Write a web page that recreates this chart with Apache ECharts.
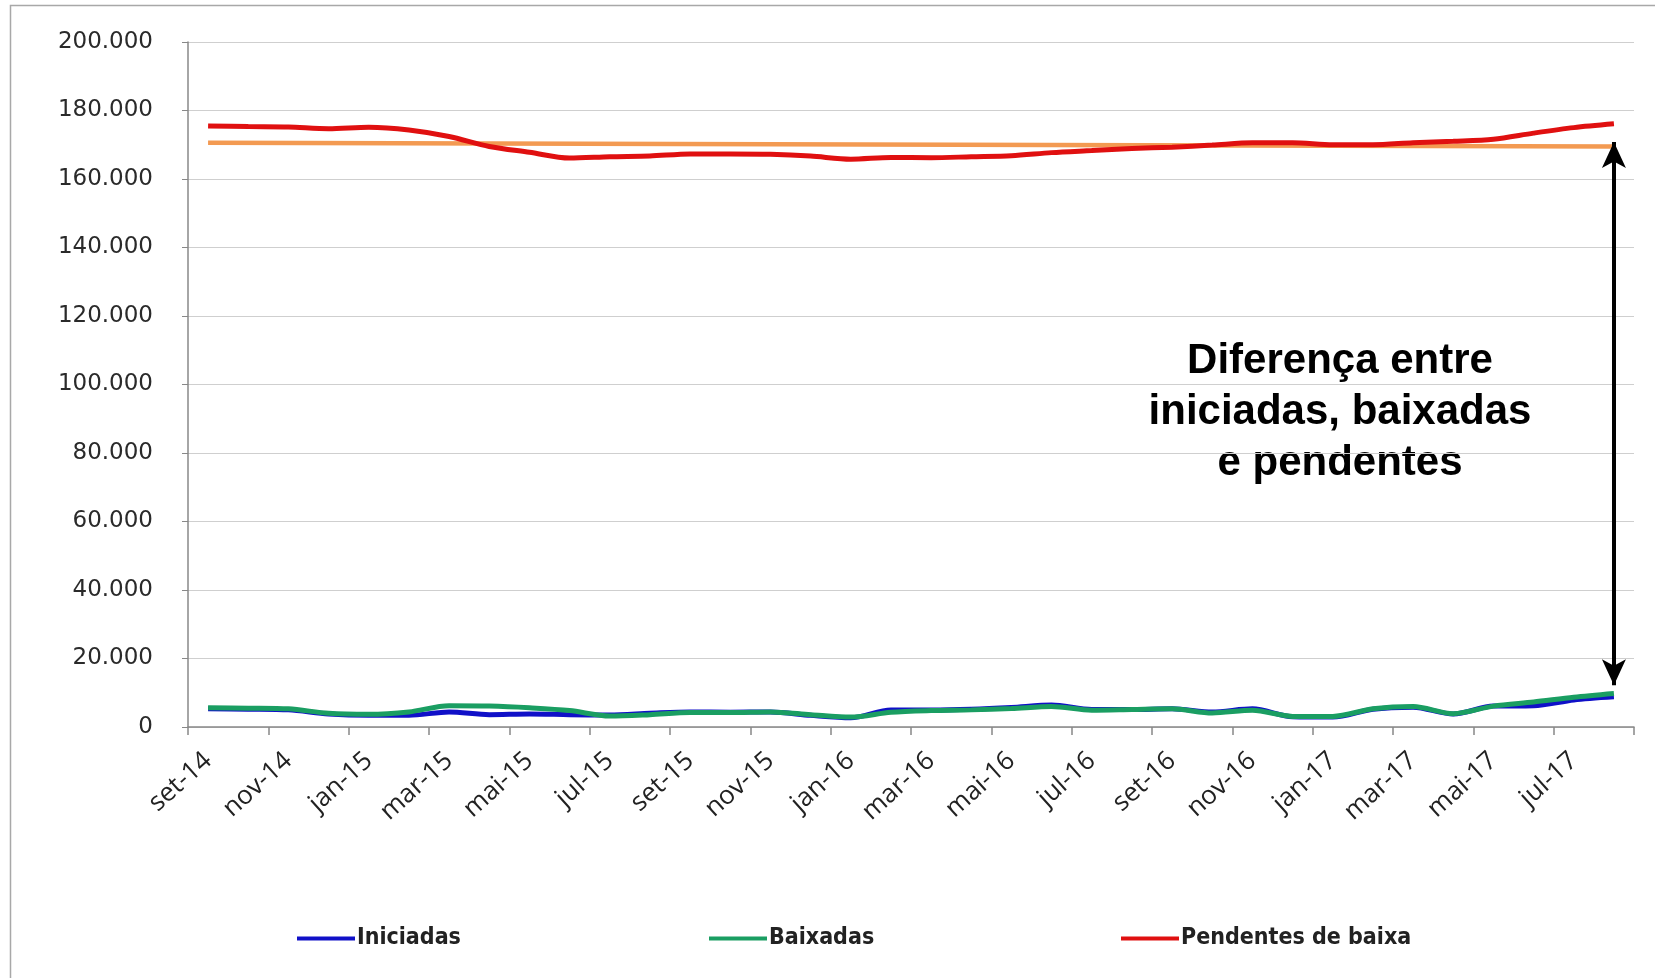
<!DOCTYPE html>
<html>
<head>
<meta charset="utf-8">
<script src="https://cdn.jsdelivr.net/npm/echarts@6/dist/echarts.min.js"></script>
<style>
html,body{margin:0;padding:0;background:#fff;}
#chart{width:1655px;height:978px;}
</style>
</head>
<body>
<div id="chart"></div>
<script>
var categories = ['set-14','out-14','nov-14','dez-14','jan-15','fev-15','mar-15','abr-15','mai-15','jun-15','jul-15','ago-15',
  'set-15','out-15','nov-15','dez-15','jan-16','fev-16','mar-16','abr-16','mai-16','jun-16','jul-16','ago-16',
  'set-16','out-16','nov-16','dez-16','jan-17','fev-17','mar-17','abr-17','mai-17','jun-17','jul-17','ago-17'];

var iniciadas = [5300,5200,5000,3800,3400,3400,4400,3600,3800,3600,3500,4000,
  4400,4300,4400,3400,2700,5000,5000,5200,5700,6400,5100,5100,
  5300,4400,5300,3000,2900,5200,5800,3800,6100,6200,7900,8800];

var baixadas = [5600,5500,5300,4000,3700,4400,6200,6100,5600,4800,3200,3600,
  4200,4200,4400,3600,2900,4300,4800,5000,5400,6000,4900,5100,
  5300,4100,4900,3100,3100,5300,6000,3900,6100,7300,8700,9800];

var pendentes = [175500,175300,175200,174700,175100,174300,172400,169500,167800,166100,166500,166700,
  167300,167300,167200,166700,165800,166300,166200,166500,166800,167700,168300,168900,
  169300,169900,170600,170600,170000,170000,170600,171000,171600,173400,175000,176100];

// trend line of "Pendentes de baixa" as read at its two ends
var trendEnds = [['set-14',170600],['ago-17',169500]];
// double arrow annotation (value range)
var arrowRange = [['ago-17',170800],['ago-17',12200]];

var yTicks = [0,20000,40000,60000,80000,100000,120000,140000,160000,180000,200000];
var annotation = 'Diferença entre\niniciadas, baixadas\ne pendentes';

function fmt(v){ return String(v).replace(/\B(?=(\d{3})+(?!\d))/g,'.'); }

var chart = echarts.init(document.getElementById('chart'), null, {renderer:'canvas'});
var legendBase = {
  top: 922, orient:'horizontal', icon:'rect', itemWidth:58, itemHeight:4, itemGap:0,
  textStyle:{fontFamily:'DejaVu Sans Condensed, DejaVu Sans', fontWeight:'bold', fontSize:23, color:'#222', padding:[0,0,0,-3]},
  selectedMode:false
};
chart.setOption({
  animation:false,
  backgroundColor:'#fff',
  grid:{left:188, right:21, top:42, bottom:251, containLabel:false},
  xAxis:{
    type:'category', data:categories, boundaryGap:true,
    axisLine:{lineStyle:{color:'#888', width:1.5}},
    axisTick:{show:true, interval:1, alignWithLabel:false, length:8, lineStyle:{color:'#888', width:1.5}},
    axisLabel:{interval:1, rotate:42, margin:30, fontFamily:'Open Sans', fontSize:26, color:'#222'},
    splitLine:{show:false}
  },
  yAxis:{
    type:'value', min:yTicks[0], max:yTicks[yTicks.length-1], interval:20000,
    axisLine:{show:true, lineStyle:{color:'#888', width:1.5}},
    axisTick:{show:true, length:6, lineStyle:{color:'#888'}},
    axisLabel:{margin:35, fontFamily:'DejaVu Sans', fontSize:23, color:'#2a2a2a', formatter:fmt},
    splitLine:{show:true, lineStyle:{color:'#cfcfcf', width:1.2}}
  },
  legend:[
    Object.assign({}, legendBase, {left:292, data:['Iniciadas']}),
    Object.assign({}, legendBase, {left:704, data:['Baixadas']}),
    Object.assign({}, legendBase, {left:1116, data:['Pendentes de baixa']})
  ],
  series:[
    {name:'Tendência', type:'line', data:trendEnds, showSymbol:false, symbol:'none',
     lineStyle:{color:'#f39a52', width:4.5}, z:2,
     markLine:{silent:true, symbol:['arrow','arrow'], symbolSize:[18,26],
       label:{show:false}, lineStyle:{color:'#000', width:4, type:'solid'},
       data:[[{coord:arrowRange[0]},{coord:arrowRange[1]}]]}},
    {name:'Pendentes de baixa', type:'line', data:pendentes, smooth:0.3, symbol:'none',
     lineStyle:{color:'#e01010', width:5}, itemStyle:{color:'#e01010'}, z:3},
    {name:'Iniciadas', type:'line', data:iniciadas, smooth:0.3, symbol:'none',
     lineStyle:{color:'#1010c8', width:5}, itemStyle:{color:'#1010c8'}, z:3},
    {name:'Baixadas', type:'line', data:baixadas, smooth:0.3, symbol:'none',
     lineStyle:{color:'#1a9e62', width:5}, itemStyle:{color:'#1a9e62'}, z:4}
  ],
  graphic:[
    {type:'rect', shape:{x:10.5, y:5.5, width:1700, height:1100}, style:{fill:null, stroke:'#a8a8a8', lineWidth:1.5}, z:-1, silent:true},
    {type:'text', x:1340, y:412, silent:true, style:{text:annotation, align:'center', verticalAlign:'middle',
      font:'bold 42px "Liberation Sans", Arial, sans-serif', lineHeight:51, fill:'#000'}}
  ]
});
</script>
</body>
</html>
